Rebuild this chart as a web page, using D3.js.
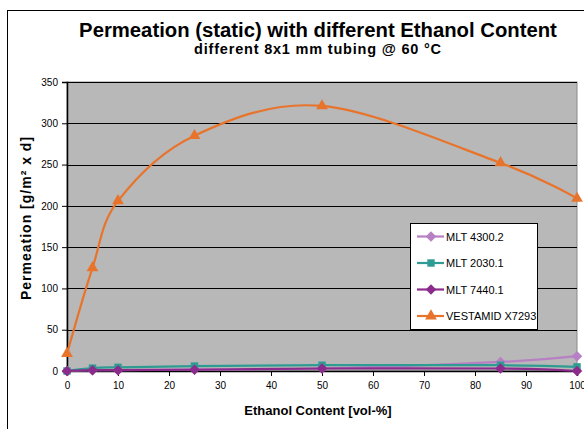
<!DOCTYPE html>
<html>
<head>
<meta charset="utf-8">
<script src="https://cdn.jsdelivr.net/npm/d3@7"></script>
<style>
  body { margin: 0; background: #fff; }
  svg { display: block; font-family: "Liberation Sans", Arial, sans-serif; }
</style>
</head>
<body>
<svg id="chart" width="584" height="429"></svg>
<script>
// ethanol content [vol-%]
var ethanol = [0, 5, 10, 25, 50, 85, 100];

// permeation values [g/m² x d]
var mlt4300 = [0, 1, 1, 2, 3, 11, 18];
var mlt2030 = [0, 3.5, 4.5, 6, 7, 7, 5];
var mlt7440 = [0, 1, 1, 1.5, 3, 3, 0];
var vestamid = [21, 125, 206, 285, 321, 252, 209];

var seriesNames = ['MLT 4300.2', 'MLT 2030.1', 'MLT 7440.1', 'VESTAMID X7293'];
var xTicks = [0, 10, 20, 30, 40, 50, 60, 70, 80, 90, 100];
var yTicks = [0, 50, 100, 150, 200, 250, 300, 350];

var series = [
  { name: seriesNames[0], values: mlt4300, color: '#b77fc4', marker: 'diamond' },
  { name: seriesNames[1], values: mlt2030, color: '#2f9c93', marker: 'square' },
  { name: seriesNames[2], values: mlt7440, color: '#8b2c8c', marker: 'diamond' },
  { name: seriesNames[3], values: vestamid, color: '#e8742c', marker: 'triangle' }
];

var svg = d3.select('#chart');

// outer chart frame
svg.append('rect')
  .attr('x', 7.5).attr('y', 10.5)
  .attr('width', 600).attr('height', 440)
  .attr('fill', '#fff')
  .attr('stroke', '#000')
  .attr('stroke-width', 1);

var plot = { left: 67, right: 577, top: 82, bottom: 371 };

var x = d3.scaleLinear().domain([0, 100]).range([plot.left, plot.right]);
var y = d3.scaleLinear().domain([0, 350]).range([plot.bottom, plot.top]);

// plot area
svg.append('rect')
  .attr('x', plot.left).attr('y', plot.top)
  .attr('width', plot.right - plot.left)
  .attr('height', plot.bottom - plot.top)
  .attr('fill', '#b8b8b8')
  .attr('stroke', '#8a8a8a')
  .attr('stroke-width', 1);

// gridlines
svg.append('g')
  .selectAll('line')
  .data(yTicks.slice(1))
  .join('line')
  .attr('x1', plot.left).attr('x2', plot.right)
  .attr('y1', function (d) { return Math.round(y(d)) + 0.5; })
  .attr('y2', function (d) { return Math.round(y(d)) + 0.5; })
  .attr('stroke', '#000')
  .attr('stroke-width', 1.2);

// axes
var xAxis = svg.append('g')
  .attr('transform', 'translate(0,' + plot.bottom + ')')
  .call(d3.axisBottom(x).tickValues(xTicks).tickSize(5).tickPadding(6));

var yAxis = svg.append('g')
  .attr('transform', 'translate(' + plot.left + ',0)')
  .call(d3.axisLeft(y).tickValues(yTicks).tickSize(5).tickPadding(4));

[xAxis, yAxis].forEach(function (ax) {
  ax.select('.domain').attr('stroke', '#000').attr('stroke-width', 1.5);
  ax.selectAll('.tick line').attr('stroke', '#000');
  ax.selectAll('text')
    .attr('font-family', '"Liberation Sans", Arial, sans-serif')
    .attr('font-size', 10)
    .attr('fill', '#000');
});

// series lines and markers
var line = d3.line()
  .x(function (d, i) { return x(ethanol[i]); })
  .y(function (d) { return y(d); })
  .curve(d3.curveCardinal.tension(0));

var symbolFor = {
  diamond: d3.symbol().type(d3.symbolDiamond2).size(70),
  square: d3.symbol().type(d3.symbolSquare).size(55),
  triangle: d3.symbol().type(d3.symbolTriangle).size(60)
};

series.forEach(function (s) {
  var g = svg.append('g').attr('class', 'series');
  g.append('path')
    .attr('d', line(s.values))
    .attr('fill', 'none')
    .attr('stroke', s.color)
    .attr('stroke-width', 2.2);
  g.selectAll('path.marker')
    .data(s.values)
    .join('path')
    .attr('class', 'marker')
    .attr('d', symbolFor[s.marker])
    .attr('transform', function (d, i) {
      return 'translate(' + x(ethanol[i]) + ',' + y(d) + ')';
    })
    .attr('fill', s.color);
});

// legend
var legend = svg.append('g').attr('transform', 'translate(410,223)');
legend.append('rect')
  .attr('x', 0.5).attr('y', 0.5)
  .attr('width', 127).attr('height', 106)
  .attr('fill', '#fff')
  .attr('stroke', '#000');

var item = legend.selectAll('g.item')
  .data(series)
  .join('g')
  .attr('class', 'item')
  .attr('transform', function (d, i) { return 'translate(0,' + (13.5 + i * 26.5) + ')'; });

item.append('line')
  .attr('x1', 7).attr('x2', 34)
  .attr('stroke', function (d) { return d.color; })
  .attr('stroke-width', 2.2);
item.append('path')
  .attr('d', function (d) { return symbolFor[d.marker](); })
  .attr('transform', 'translate(21,0)')
  .attr('fill', function (d) { return d.color; });
item.append('text')
  .attr('x', 36).attr('y', 4)
  .attr('font-size', 11)
  .text(function (d) { return d.name; });

// titles
svg.append('text')
  .attr('x', 318).attr('y', 37)
  .attr('text-anchor', 'middle')
  .attr('font-size', 20.3).attr('font-weight', 'bold')
  .text('Permeation (static) with different Ethanol Content');

svg.append('text')
  .attr('x', 318).attr('y', 54)
  .attr('text-anchor', 'middle')
  .attr('font-size', 14.5).attr('font-weight', 'bold')
  .attr('letter-spacing', 0.8)
  .text('different 8x1 mm tubing @ 60 °C');

svg.append('text')
  .attr('x', 318).attr('y', 415)
  .attr('text-anchor', 'middle')
  .attr('font-size', 13).attr('font-weight', 'bold')
  .text('Ethanol Content [vol-%]');

svg.append('text')
  .attr('transform', 'translate(31,218) rotate(-90)')
  .attr('text-anchor', 'middle')
  .attr('font-size', 14).attr('font-weight', 'bold')
  .attr('letter-spacing', 1.0)
  .text('Permeation [g/m² x d]');
</script>
</body>
</html>
